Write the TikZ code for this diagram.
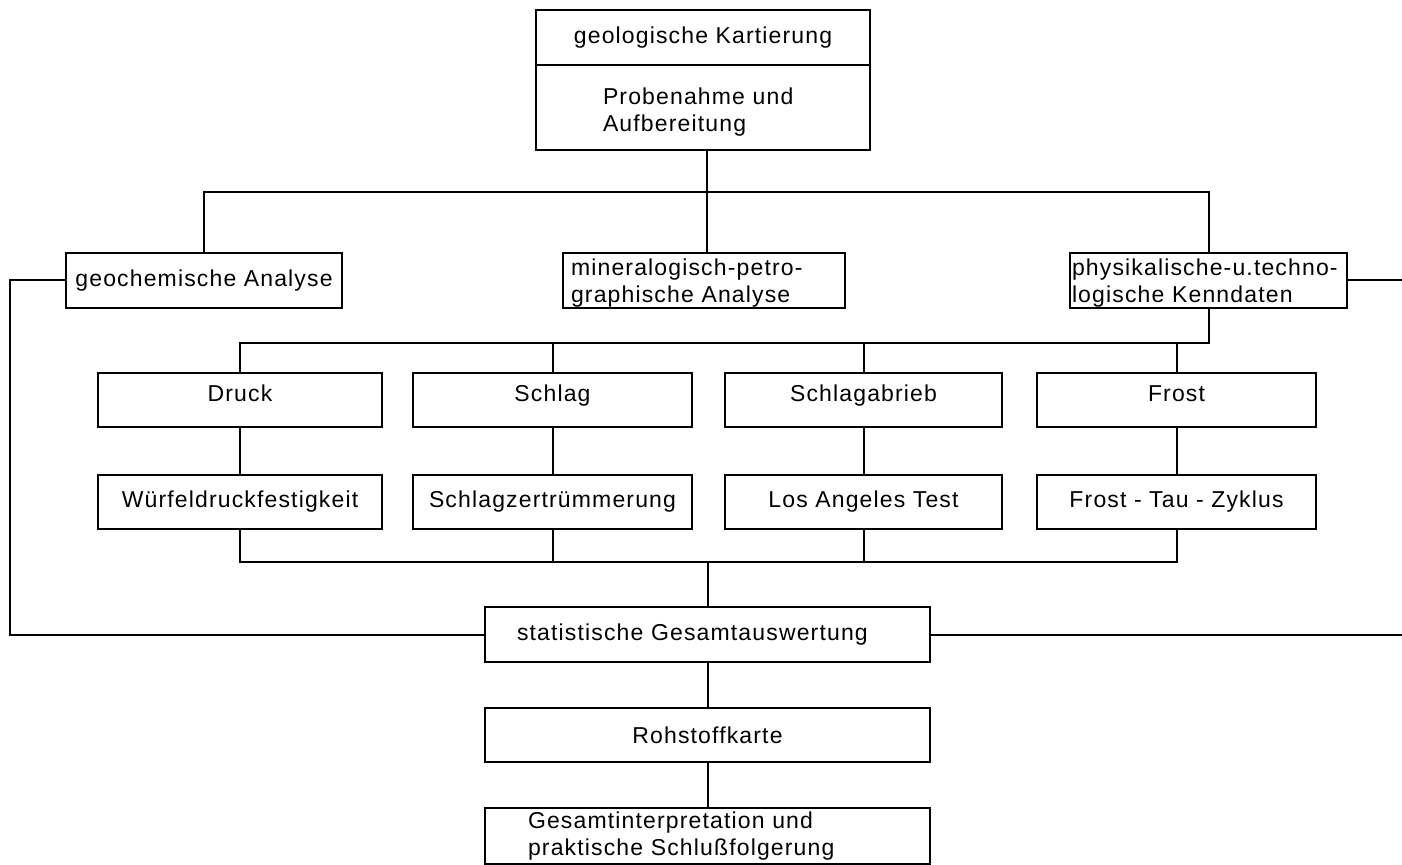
\documentclass[tikz,border=0pt]{standalone}
\usepackage{fontspec}
\setmainfont[LetterSpace=5]{Liberation Sans}
\begin{document}
\begin{tikzpicture}[x=0.5pt,y=-0.5pt,
  box/.style={draw, line width=1.1pt, inner sep=0pt, font=\fontsize{11.5}{13.5}\selectfont},
  raised/.style={text height=8.5pt, text depth=7pt},
  conn/.style={line width=1pt}]
\useasboundingbox (0,0) rectangle (1402,865);
% top
\node[box, minimum width=167pt, minimum height=27.5pt] (geo) at (703,37.5) {geologische Kartierung};
\node[box, minimum width=167pt, minimum height=42.5pt, text width=100pt, align=left] (probe) at (703,107.5) {\rule{0pt}{13pt}Probenahme und\\Aufbereitung};
% second level
\node[box, minimum width=138pt, minimum height=27.5pt] (geochem) at (204,280.5) {geochemische Analyse};
\node[box, minimum width=141pt, minimum height=27.5pt, text width=133pt, align=left] (mineral) at (704,280.5) {\rule{0pt}{11.2pt}mineralogisch-petro-\\graphische Analyse};
\node[box, minimum width=138.5pt, minimum height=27.5pt, text width=136.5pt, align=left] (phys) at (1208.5,280.5) {\rule{0pt}{11.2pt}physikalische-u.techno-\\logische Kenndaten};
% tests row 1
\node[box, raised, minimum width=142pt, minimum height=27pt] (druck) at (240,400) {Druck};
\node[box, raised, minimum width=139.5pt, minimum height=27pt] (schlag) at (552.5,400) {Schlag};
\node[box, raised, minimum width=138.5pt, minimum height=27pt] (abrieb) at (863.5,400) {Schlagabrieb};
\node[box, raised, minimum width=139.5pt, minimum height=27pt] (frost) at (1176.5,400) {Frost};
% tests row 2
\node[box, minimum width=142pt, minimum height=27pt] (wuerfel) at (240,502) {Würfeldruckfestigkeit};
\node[box, minimum width=139.5pt, minimum height=27pt] (zertr) at (552.5,502) {Schlagzertrümmerung};
\node[box, minimum width=138.5pt, minimum height=27pt] (losang) at (863.5,502) {Los Angeles Test};
\node[box, minimum width=139.5pt, minimum height=27pt] (zyklus) at (1176.5,502) {Frost - Tau - Zyklus};
% bottom
\node[box, minimum width=222.5pt, minimum height=27.5pt, text width=190.5pt, align=left] (stat) at (707.5,634.5) {statistische Gesamtauswertung};
\node[box, minimum width=222.5pt, minimum height=27pt] (roh) at (707.5,735) {Rohstoffkarte};
\node[box, minimum width=222.5pt, minimum height=28pt, text width=179.5pt, align=left] (gesamt) at (707.5,836) {Gesamtinterpretation und\\praktische Schlußfolgerung};
% coordinates
\coordinate (busA) at (707,192);
\coordinate (busB) at (0,343);
\coordinate (busC) at (0,562);
\coordinate (L) at (10,0);
\coordinate (R) at (1402,0);
% connectors
\draw[conn] (busA |- probe.south) -- (busA |- mineral.north);
\draw[conn] (geochem.north) |- (busA) -| (phys.north);
\draw[conn] (geochem.west) -- (geochem.west -| L) |- (stat.west);
\draw[conn] (phys.east) -- (phys.east -| R);
\draw[conn] (stat.east) -- (stat.east -| R);
\draw[conn] (phys.south) |- (druck.north |- busB) -- (druck.north);
\draw[conn] (schlag.north) -- (schlag.north |- busB);
\draw[conn] (abrieb.north) -- (abrieb.north |- busB);
\draw[conn] (frost.north) -- (frost.north |- busB);
\draw[conn] (druck) -- (wuerfel);
\draw[conn] (schlag) -- (zertr);
\draw[conn] (abrieb) -- (losang);
\draw[conn] (frost) -- (zyklus);
\draw[conn] (wuerfel.south) |- (zyklus.south |- busC) -- (zyklus.south);
\draw[conn] (zertr.south) -- (zertr.south |- busC);
\draw[conn] (losang.south) -- (losang.south |- busC);
\draw[conn] (stat.north) -- (stat.north |- busC);
\draw[conn] (stat) -- (roh);
\draw[conn] (roh) -- (gesamt);
\end{tikzpicture}
\end{document}
